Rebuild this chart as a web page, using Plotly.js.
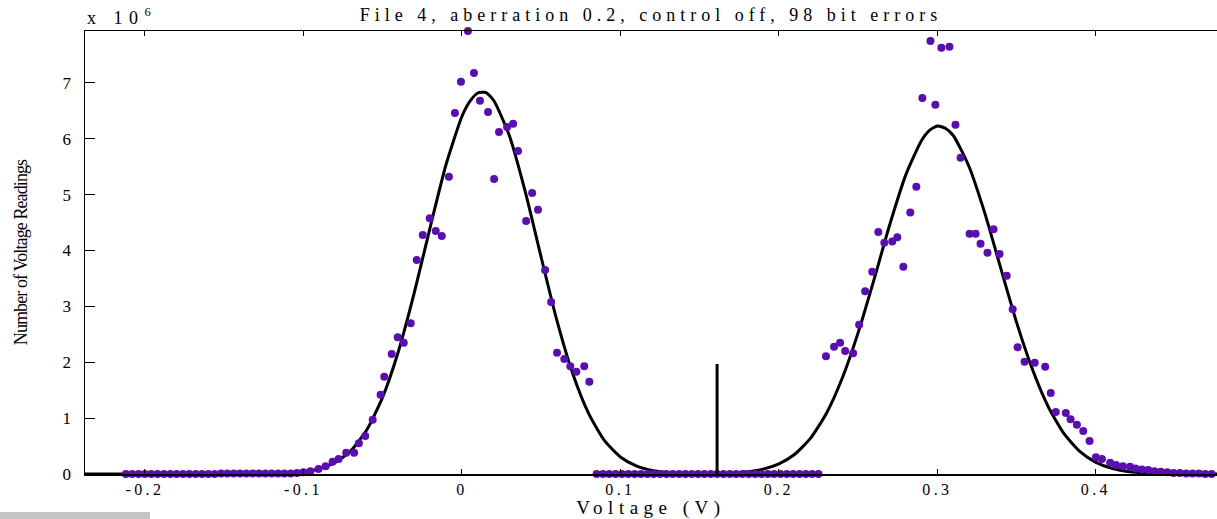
<!DOCTYPE html>
<html>
<head>
<meta charset="utf-8">
<script src="https://cdn.plot.ly/plotly-3.0.1.min.js"></script>
<style>
  html, body { margin: 0; padding: 0; background: #fff; }
  #chart { width: 1217px; height: 519px; }
  .gtitle { letter-spacing: 5px; }
  .xtitle { letter-spacing: 5.5px; }
  .ytitle { letter-spacing: -0.9px; }
  .xtick text { letter-spacing: 3.4px; }
  .ytick text { letter-spacing: 3px; }
  .annotation-text { letter-spacing: 6.5px; }
</style>
</head>
<body>
<div id="chart"></div>
<script>
// Values in units of 10^6 readings
const tailLeftX = [-0.212,-0.208,-0.204,-0.200,-0.196,-0.192,-0.188,-0.184,-0.180,-0.176,-0.172,-0.168,-0.164,-0.160,-0.156,-0.152,-0.148,-0.144,-0.140,-0.136,-0.132,-0.128,-0.124,-0.120,-0.116,-0.112,-0.108,-0.104,-0.100];
const tailLeftY = [0,0,0,0,0,0,0,0,0,0,0,0,0,0,0,0.01,0.01,0.01,0.01,0.01,0.01,0.01,0.01,0.01,0.01,0.01,0.01,0.02,0.03];

const peak1X = [-0.0956,-0.0905,-0.086,-0.0816,-0.0778,-0.073,-0.068,-0.065,-0.061,-0.0563,-0.0513,-0.049,-0.0443,-0.0405,-0.0367,-0.0323,-0.0285,-0.0247,-0.0203,-0.0165,-0.0127,-0.0082,-0.0044,-0.0006,0.0038,0.0076,0.0114,0.0165,0.0203,0.0234,0.0285,0.0323,0.0354,0.0405,0.0443,0.048,0.0525,0.0563,0.060,0.0646,0.0684,0.0722,0.0772,0.0804];
const peak1Y = [0.05,0.09,0.14,0.22,0.27,0.38,0.38,0.55,0.68,0.97,1.42,1.74,2.15,2.45,2.35,2.70,3.83,4.28,4.58,4.35,4.26,5.32,6.46,7.02,7.93,7.18,6.68,6.48,5.28,6.12,6.21,6.27,5.78,4.53,5.03,4.73,3.65,3.08,2.17,2.06,1.93,1.83,1.93,1.65];

const midX = [0.085,0.089,0.093,0.097,0.101,0.105,0.109,0.113,0.117,0.121,0.125,0.129,0.133,0.137,0.141,0.145,0.149,0.153,0.157,0.161,0.165,0.169,0.173,0.177,0.181,0.185,0.189,0.193,0.197,0.201,0.205,0.209,0.213,0.217,0.221,0.225];
const midY = [0,0,0,0,0,0,0,0,0,0,0,0,0,0,0,0,0,0,0,0,0,0,0,0,0,0,0,0,0,0,0,0,0,0,0,0];

const peak2X = [0.2297,0.2348,0.2386,0.2418,0.2468,0.2506,0.2544,0.2589,0.2627,0.2665,0.2715,0.2747,0.2785,0.2829,0.2867,0.2905,0.2956,0.2987,0.3025,0.3076,0.3114,0.3146,0.3203,0.3241,0.3272,0.3316,0.3354,0.3392,0.3437,0.3475,0.3506,0.3550,0.3614,0.368,0.3715,0.3747,0.381,0.384,0.388,0.392,0.396,0.400,0.4038,0.409];
const peak2Y = [2.11,2.28,2.35,2.20,2.16,2.67,3.27,3.62,4.33,4.14,4.16,4.24,3.71,4.68,5.14,6.73,7.75,6.61,7.63,7.65,6.25,5.66,4.30,4.30,4.12,3.96,4.38,3.94,3.55,2.95,2.27,2.01,1.99,1.92,1.45,1.11,1.09,0.98,0.88,0.77,0.59,0.30,0.27,0.20];

const tailRightX = [0.4127,0.417,0.4215,0.425,0.429,0.433,0.437,0.441,0.445,0.449,0.453,0.457,0.461,0.465,0.469,0.473,0.477];
const tailRightY = [0.16,0.14,0.13,0.10,0.08,0.07,0.05,0.04,0.03,0.02,0.02,0.01,0.01,0.01,0,0,0];

// Fitted curve
const fitX = [-0.24,-0.23,-0.22,-0.21,-0.20,-0.19,-0.18,-0.17,-0.16,-0.15,-0.14,-0.13,-0.12,-0.11,-0.10,-0.09,-0.08,-0.07,-0.06,-0.05,-0.04,-0.03,-0.02,-0.01,0.00,0.005,0.01,0.015,0.02,0.03,0.04,0.05,0.06,0.07,0.08,0.09,0.10,0.11,0.12,0.13,0.14,0.15,0.16,0.17,0.18,0.19,0.20,0.21,0.22,0.23,0.24,0.25,0.26,0.27,0.28,0.29,0.295,0.30,0.305,0.31,0.32,0.33,0.34,0.35,0.36,0.37,0.38,0.39,0.40,0.41,0.42,0.43,0.44,0.45,0.46,0.47,0.48];
const fitY = [0,0,0,0,0,0,0,0,0,0,0,0,0.005,0.015,0.039,0.092,0.205,0.419,0.791,1.375,2.201,3.25,4.42,5.54,6.40,6.67,6.82,6.83,6.69,6.05,5.05,3.88,2.74,1.79,1.08,0.597,0.305,0.144,0.062,0.025,0.010,0.005,0.007,0.016,0.039,0.087,0.182,0.354,0.642,1.087,1.718,2.53,3.48,4.47,5.35,5.97,6.15,6.23,6.19,6.06,5.50,4.66,3.68,2.71,1.87,1.20,0.718,0.401,0.209,0.102,0.046,0.020,0.008,0.003,0,0,0];

const thresholdX = [0.161, 0.161];
const thresholdY = [0, 1.97];

const xTicks = [-0.2,-0.1,0,0.1,0.2,0.3,0.4];
const xTickText = ['-0.2','-0.1','0','0.1','0.2','0.3','0.4'];
const yTicks = [0,1,2,3,4,5,6,7];
const yTickText = ['0','1','2','3','4','5','6','7'];

const dotsX = tailLeftX.concat(peak1X, midX, peak2X, tailRightX);
const dotsY = tailLeftY.concat(peak1Y, midY, peak2Y, tailRightY);

const serif = 'Liberation Serif, Times New Roman, serif';

const traces = [
  {x: fitX, y: fitY, type: 'scatter', mode: 'lines',
   line: {color: '#000000', width: 3, shape: 'spline', smoothing: 0.6},
   hoverinfo: 'skip', showlegend: false},
  {x: dotsX, y: dotsY, type: 'scatter', mode: 'markers',
   marker: {color: '#5a0eb0', size: 8, line: {width: 0}},
   cliponaxis: false, showlegend: false},
  {x: thresholdX, y: thresholdY, type: 'scatter', mode: 'lines',
   line: {color: '#000000', width: 3}, showlegend: false}
];

const layout = {
  width: 1217, height: 519,
  margin: {l: 85, r: 0, t: 31, b: 45},
  paper_bgcolor: '#ffffff', plot_bgcolor: '#ffffff',
  showlegend: false,
  font: {family: serif, color: '#000000', size: 17},
  title: {text: 'File 4, aberration 0.2, control off, 98 bit errors',
          font: {family: serif, size: 18, color: '#000000'},
          x: 0.5, xref: 'paper', y: 0.972, yref: 'container', yanchor: 'middle'},
  xaxis: {
    range: [-0.2378, 0.4764],
    tickvals: xTicks, ticktext: xTickText,
    ticks: 'inside', ticklen: 5, tickwidth: 1, tickcolor: '#000000',
    showline: true, linecolor: '#000000', linewidth: 1.5, mirror: 'ticks',
    showgrid: false, zeroline: false,
    tickfont: {family: serif, size: 16, color: '#000000'},
    title: {text: 'Voltage (V)', font: {family: serif, size: 19, color: '#000000'}, standoff: 2}
  },
  yaxis: {
    range: [0, 7.93],
    tickvals: yTicks, ticktext: yTickText,
    ticks: 'inside', ticklen: 10, tickwidth: 1, tickcolor: '#000000',
    showline: true, linecolor: '#000000', linewidth: 1.5,
    showgrid: false, zeroline: false,
    ticklabelstandoff: 6,
    tickfont: {family: serif, size: 17, color: '#000000'},
    title: {text: 'Number of Voltage Readings', font: {family: serif, size: 18, color: '#000000'}, standoff: 30}
  },
  annotations: [
    {text: 'x 10<sup>6</sup>', xref: 'paper', yref: 'paper', x: 0, y: 1, xanchor: 'left', yanchor: 'bottom',
     yshift: 1, showarrow: false, font: {family: serif, size: 18, color: '#000000'}}
  ],
  shapes: [
    {type: 'rect', xref: 'paper', yref: 'paper', x0: -0.0751, x1: 0.0574, y0: -0.1016, y1: -0.0858,
     fillcolor: '#c4c4c4', line: {width: 0}}
  ]
};

Plotly.newPlot('chart', traces, layout, {displayModeBar: false, staticPlot: true});
</script>
</body>
</html>
